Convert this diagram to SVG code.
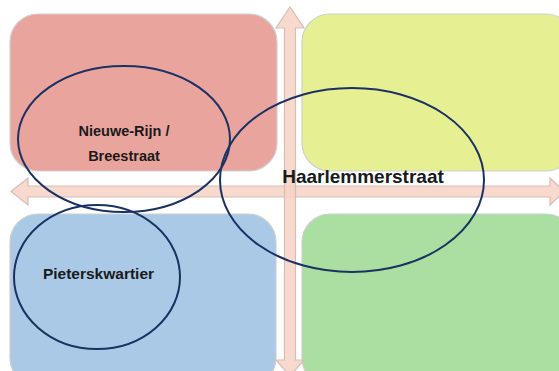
<svg xmlns="http://www.w3.org/2000/svg" width="559" height="371" viewBox="0 0 559 371">
<style>
.quad{stroke:#cfcfcf;stroke-width:1.2}
.arrow{fill:#f6d2c4;fill-opacity:0.85;stroke:#d9bdb4;stroke-width:1.2}
.ell{fill:none;stroke:#1a3262;stroke-width:2}
.lbl{font-family:"Liberation Sans",Arial,sans-serif;font-weight:bold;fill:#1a1a1a;text-anchor:middle}
</style>
<rect width="559" height="371" fill="#ffffff"/>
<g id="quadrants">
<rect id="q-red" class="quad" x="10" y="14" width="267" height="157" rx="28" fill="#eaa49e"/>
<rect id="q-yellow" class="quad" x="302" y="14" width="272" height="157" rx="28" fill="#e6f093"/>
<rect id="q-blue" class="quad" x="10" y="214" width="266" height="172" rx="28" fill="#a9c9e7"/>
<rect id="q-green" class="quad" x="302" y="214" width="272" height="172" rx="28" fill="#abdfa1"/>
</g>
<g id="axes">
<polygon class="arrow" points="11,191.5 28,178 28,186 550,186 550,178 564,191.5 550,205 550,197 28,197 28,205"/>
<polygon class="arrow" points="290,7 304,28 295.5,28 295.5,360 304,360 290,376 276,360 284.5,360 284.5,28 276,28"/>
</g>
<g id="node-nieuwe-rijn">
<ellipse class="ell" cx="124" cy="139" rx="106" ry="73"/>
<text class="lbl" x="124" y="136" font-size="14.5">Nieuwe-Rijn /</text>
<text class="lbl" x="124" y="161" font-size="14.5">Breestraat</text>
</g>
<g id="node-haarlemmerstraat">
<ellipse class="ell" cx="352" cy="180" rx="132" ry="92"/>
<text class="lbl" x="363" y="183" font-size="19">Haarlemmerstraat</text>
</g>
<g id="node-pieterskwartier">
<ellipse class="ell" cx="97" cy="277" rx="83" ry="72"/>
<text class="lbl" x="98.5" y="279" font-size="15.5">Pieterskwartier</text>
</g>
</svg>
